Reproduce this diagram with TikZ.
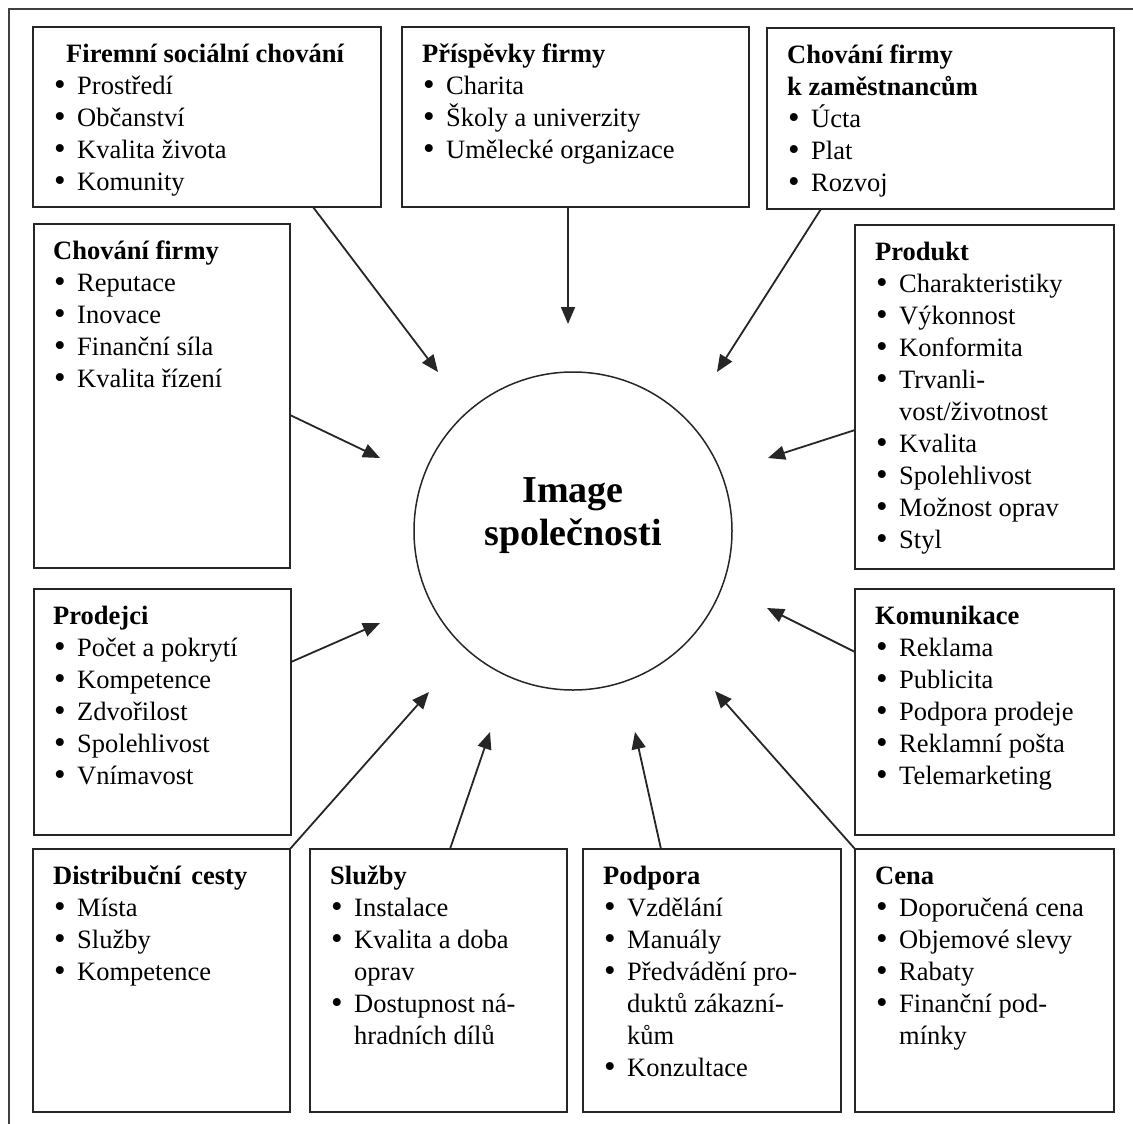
\documentclass[tikz,border=0pt]{standalone}
\usepackage{fontspec}
\setmainfont{Liberation Serif}
\usetikzlibrary{arrows.meta,calc}

% one text line: fixed height 24bp, depth 8bp (pitch 32bp)
\newcommand\bxstrut{\rule[-8bp]{0pt}{32bp}}
\newcommand\bxtitle[1]{\bxstrut\textbf{#1}}
\newcommand\bxitem[1]{\bxstrut\hspace*{1bp}\makebox[23bp][l]{\raisebox{-1bp}{\scalebox{1.25}{\textbullet}}}#1}
\newcommand\bxcont[1]{\bxstrut\hspace*{24bp}#1}
\newcommand\ctstrut{\rule[-13.5bp]{0pt}{43.5bp}}

\begin{document}
\begin{tikzpicture}[x=1bp,y=-1bp,
  box/.style={draw=black!85, line width=1.8bp, inner sep=0, outer sep=0, anchor=north west},
  txt/.style={anchor=north west, inner sep=0, align=left, font=\fontsize{26.5bp}{32bp}\selectfont},
  arr/.style={draw=black!85, line width=1.8bp, -{Triangle[length=17bp,width=14bp]}}]

\useasboundingbox (0,0) rectangle (1133,1124);

% outer frame
\draw[line width=2bp, draw=black!75] (9,1140) -- (9,9) -- (1145,9);

% central circle
\node[circle, draw=black!85, line width=1.5bp, minimum size=318bp, inner sep=0, outer sep=0] (img) at (573,531) {};
\node[anchor=north, inner sep=0, align=center, font=\fontsize{38bp}{43.5bp}\selectfont\bfseries] (imgt) at (573,472)
  {\ctstrut Image\\\ctstrut společnosti};

% boxes
\node[box, minimum width=348bp, minimum height=180bp] (b1) at (33,27) {};
\node[box, minimum width=347bp, minimum height=180bp] (b2) at (402,27) {};
\node[box, minimum width=347bp, minimum height=181bp] (b3) at (767,28) {};
\node[box, minimum width=256bp, minimum height=344bp] (b4) at (34,224) {};
\node[box, minimum width=259bp, minimum height=344bp] (b5) at (855,225) {};
\node[box, minimum width=257bp, minimum height=246bp] (b6) at (34,589) {};
\node[box, minimum width=259bp, minimum height=246bp] (b7) at (855,589) {};
\node[box, minimum width=257bp, minimum height=263bp] (b8) at (33,849) {};
\node[box, minimum width=257bp, minimum height=263bp] (b9) at (310,849) {};
\node[box, minimum width=258bp, minimum height=263bp] (b10) at (583,849) {};
\node[box, minimum width=259bp, minimum height=263bp] (b11) at (855,849) {};

% box texts
\node[txt] (b1t) at ($(b1.north west)+(20,11)$) {%
  \bxtitle{\hspace*{13bp}Firemní sociální chování}\\
  \bxitem{Prostředí}\\\bxitem{Občanství}\\\bxitem{Kvalita života}\\\bxitem{Komunity}};
\node[txt] (b2t) at ($(b2.north west)+(20,11)$) {%
  \bxtitle{Příspěvky firmy}\\
  \bxitem{Charita}\\\bxitem{Školy a univerzity}\\\bxitem{Umělecké organizace}};
\node[txt] (b3t) at ($(b3.north west)+(20,11)$) {%
  \bxtitle{Chování firmy}\\\bxtitle{k zaměstnancům}\\
  \bxitem{Úcta}\\\bxitem{Plat}\\\bxitem{Rozvoj}};
\node[txt] (b4t) at ($(b4.north west)+(19,11)$) {%
  \bxtitle{Chování firmy}\\
  \bxitem{Reputace}\\\bxitem{Inovace}\\\bxitem{Finanční síla}\\\bxitem{Kvalita řízení}};
\node[txt] (b5t) at ($(b5.north west)+(20,11)$) {%
  \bxtitle{Produkt}\\
  \bxitem{Charakteristiky}\\\bxitem{Výkonnost}\\\bxitem{Konformita}\\
  \bxitem{Trvanli-}\\\bxcont{vost/životnost}\\
  \bxitem{Kvalita}\\\bxitem{Spolehlivost}\\\bxitem{Možnost oprav}\\\bxitem{Styl}};
\node[txt] (b6t) at ($(b6.north west)+(19,11)$) {%
  \bxtitle{Prodejci}\\
  \bxitem{Počet a pokrytí}\\\bxitem{Kompetence}\\\bxitem{Zdvořilost}\\
  \bxitem{Spolehlivost}\\\bxitem{Vnímavost}};
\node[txt] (b7t) at ($(b7.north west)+(20,11)$) {%
  \bxtitle{Komunikace}\\
  \bxitem{Reklama}\\\bxitem{Publicita}\\\bxitem{Podpora prodeje}\\
  \bxitem{Reklamní pošta}\\\bxitem{Telemarketing}};
\node[txt] (b8t) at ($(b8.north west)+(20,11)$) {%
  \bxtitle{Distribuční\hspace{0.38em}cesty}\\
  \bxitem{Místa}\\\bxitem{Služby}\\\bxitem{Kompetence}};
\node[txt] (b9t) at ($(b9.north west)+(20,11)$) {%
  \bxtitle{Služby}\\
  \bxitem{Instalace}\\\bxitem{Kvalita a doba}\\\bxcont{oprav}\\
  \bxitem{Dostupnost ná-}\\\bxcont{hradních dílů}};
\node[txt] (b10t) at ($(b10.north west)+(20,11)$) {%
  \bxtitle{Podpora}\\
  \bxitem{Vzdělání}\\\bxitem{Manuály}\\\bxitem{Předvádění pro-}\\
  \bxcont{duktů zákazní-}\\\bxcont{kům}\\\bxitem{Konzultace}};
\node[txt] (b11t) at ($(b11.north west)+(20,11)$) {%
  \bxtitle{Cena}\\
  \bxitem{Doporučená cena}\\\bxitem{Objemové slevy}\\\bxitem{Rabaty}\\
  \bxitem{Finanční pod-}\\\bxcont{mínky}};

% arrow tips around the circle
\coordinate (t1) at (438,372);
\coordinate (t2) at (568,324);
\coordinate (t3) at (717,372);
\coordinate (t4) at (380,458);
\coordinate (t5) at (768,458);
\coordinate (t6) at (380,623);
\coordinate (t7) at (767,608);
\coordinate (t8) at (429,692);
\coordinate (t9) at (490,732);
\coordinate (t10) at (635,732);
\coordinate (t11) at (715,691);

% connectors
\draw[arr] ($(b1.south west)+(280,0)$) -- (t1);
\draw[arr] ($(b2.south west)+(166,0)$) -- (t2);
\draw[arr] ($(b3.south west)+(54,0)$) -- (t3);
\draw[arr] ($(b4.north east)+(0,191)$) -- (t4);
\draw[arr] ($(b5.north west)+(0,205)$) -- (t5);
\draw[arr] ($(b6.north east)+(0,73)$) -- (t6);
\draw[arr] ($(b7.north west)+(0,63)$) -- (t7);
\draw[arr] (b8.north east) -- (t8);
\draw[arr] ($(b9.north west)+(140,0)$) -- (t9);
\draw[arr] ($(b10.north west)+(78,0)$) -- (t10);
\draw[arr] (b11.north west) -- (t11);
\end{tikzpicture}
\end{document}
